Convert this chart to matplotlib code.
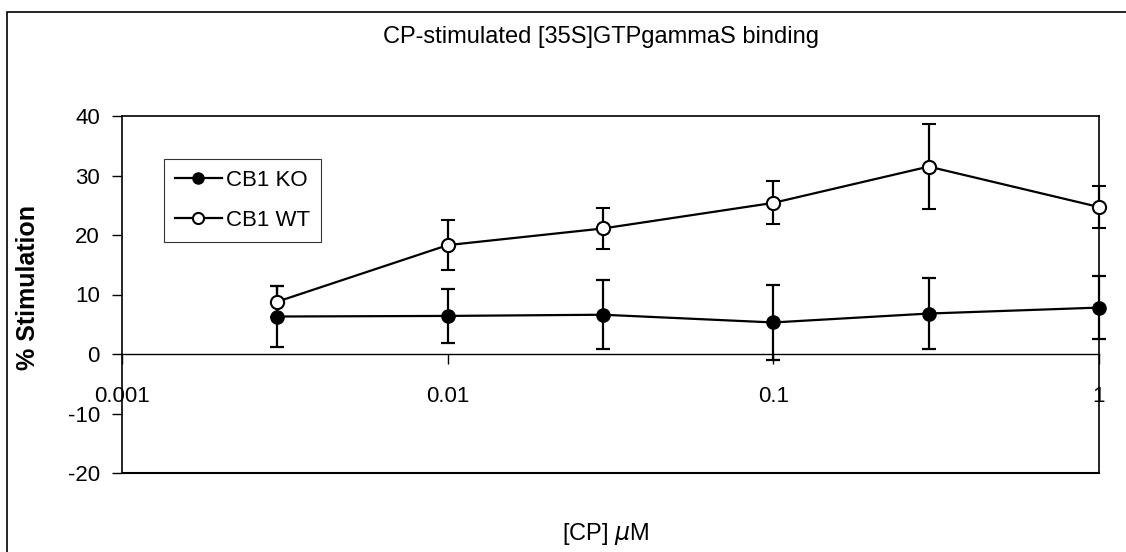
import matplotlib
matplotlib.use("Agg")
import matplotlib.pyplot as plt
from matplotlib.lines import Line2D
from matplotlib.patches import Rectangle

plt.rcParams['font.family'] = ['Liberation Sans', 'DejaVu Sans']

conc = [0.003, 0.01, 0.03, 0.1, 0.3, 1.0]
ko_mean = [6.3, 6.4, 6.6, 5.3, 6.8, 7.8]
ko_err = [5.1, 4.6, 5.8, 6.3, 6.0, 5.3]
wt_mean = [8.8, 18.3, 21.1, 25.4, 31.5, 24.7]
wt_err = [2.6, 4.2, 3.4, 3.6, 7.1, 3.6]
yticks = [-20, -10, 0, 10, 20, 30, 40]
xticks = [0.001, 0.01, 0.1, 1]
xticklabels = ['0.001', '0.01', '0.1', '1']

W, H = 1126, 552
fig = plt.figure(figsize=(W / 100, H / 100), dpi=100)

# outer chart frame
fig.patches.append(Rectangle((7 / W, -0.05), 1.2, 1 - 12 / H + 0.05,
                             transform=fig.transFigure, fill=False,
                             edgecolor='black', linewidth=1.2))

ax = fig.add_axes([122 / W, 1 - 473 / H, (1099 - 122) / W, (473 - 116) / H])
ax.set_xscale('log')
ax.set_xlim(0.001, 1)
ax.set_ylim(-20, 40)

lw = 1.6
ms = 9.5
ax.errorbar(conc, ko_mean, yerr=ko_err, color='black', marker='o',
            markersize=ms, markerfacecolor='black', markeredgecolor='black',
            linewidth=lw, elinewidth=lw, capsize=5, capthick=lw,
            clip_on=False, zorder=3)
ax.errorbar(conc, wt_mean, yerr=wt_err, color='black', marker='o',
            markersize=ms, markerfacecolor='white', markeredgecolor='black',
            markeredgewidth=1.5, linewidth=lw, elinewidth=lw, capsize=5,
            capthick=lw, clip_on=False, zorder=4)

for s in ['left', 'right', 'top']:
    ax.spines[s].set_linewidth(1.2)
ax.spines['bottom'].set_position(('data', 0))
ax.spines['bottom'].set_linewidth(1.0)
ax.axhline(-20, color='black', linewidth=1.5, clip_on=False)

ax.set_yticks(yticks)
ax.set_yticklabels([str(v) for v in yticks], fontsize=16)
ax.tick_params(axis='y', direction='out', length=7, width=1, pad=9)
ax.set_xticks(xticks)
ax.set_xticklabels(xticklabels, fontsize=16)
ax.xaxis.set_minor_locator(matplotlib.ticker.NullLocator())
ax.tick_params(axis='x', direction='out', length=7, width=1, pad=16)

fig.text(601 / W, 1 - 37 / H, 'CP-stimulated [35S]GTPgammaS binding',
         ha='center', va='center', fontsize=17)
fig.text(606 / W, 1 - 534 / H, r'[CP] $\mu$M', ha='center', va='center',
         fontsize=17)
fig.text(28 / W, 1 - 288 / H, '% Stimulation', rotation=90, ha='center',
         va='center', fontsize=18, fontweight='bold')

handles = [
    Line2D([], [], color='black', marker='o', markersize=8,
           markerfacecolor='black', linewidth=lw),
    Line2D([], [], color='black', marker='o', markersize=8,
           markerfacecolor='white', markeredgewidth=1.5, linewidth=lw),
]
leg = fig.legend(handles, ['CB1 KO', 'CB1 WT'], loc='upper left',
                 bbox_to_anchor=(164 / W, 1 - 159 / H), fontsize=16,
                 frameon=True, fancybox=False, edgecolor='black',
                 handlelength=2.1, handletextpad=0.2, borderpad=0.5,
                 labelspacing=0.85, borderaxespad=0)
leg.get_frame().set_linewidth(0.8)

fig.savefig('out.png', dpi=100)
